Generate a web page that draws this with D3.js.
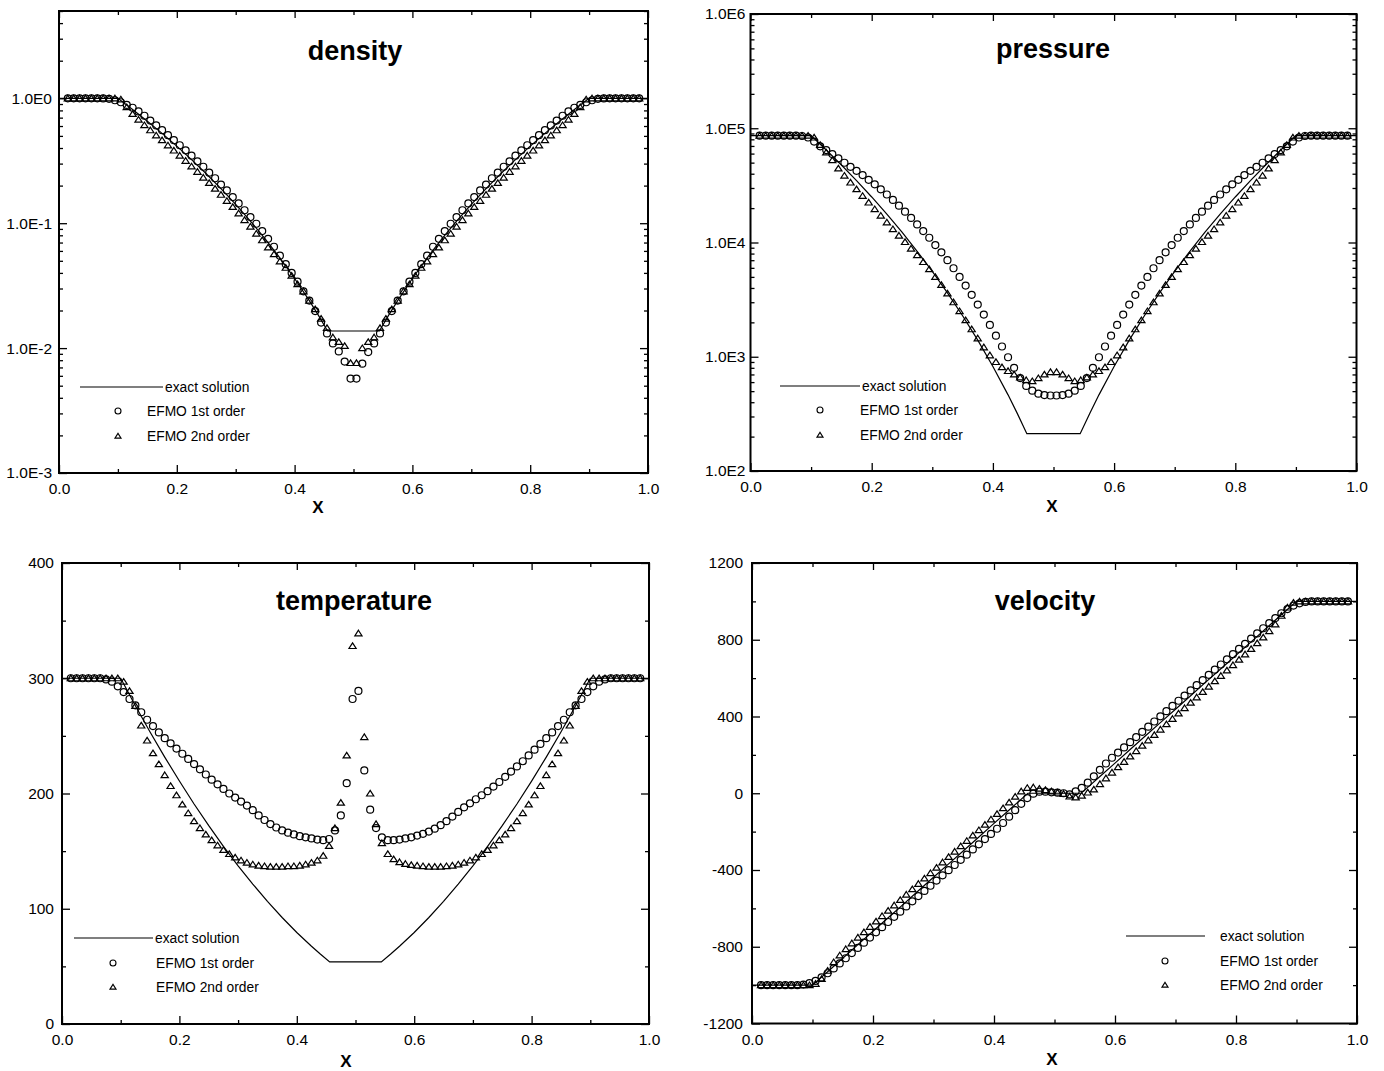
<!DOCTYPE html>
<html>
<head>
<meta charset="utf-8">
<script src="https://cdn.jsdelivr.net/npm/d3@7"></script>
<style>
  body { margin: 0; background: #fff; }
  svg { display: block; font-family: "Liberation Sans", Arial, Helvetica, sans-serif; }
</style>
</head>
<body>
<svg id="chart" width="1384" height="1071"></svg>
<script>
// plotted cell centres (boundary cells are not shown)
const xGrid = [
         0.015, 0.025, 0.035, 0.045, 0.055, 0.065, 0.075, 0.085, 0.095,
  0.105, 0.115, 0.125, 0.135, 0.145, 0.155, 0.165, 0.175, 0.185, 0.195,
  0.205, 0.215, 0.225, 0.235, 0.245, 0.255, 0.265, 0.275, 0.285, 0.295,
  0.305, 0.315, 0.325, 0.335, 0.345, 0.355, 0.365, 0.375, 0.385, 0.395,
  0.405, 0.415, 0.425, 0.435, 0.445, 0.455, 0.465, 0.475, 0.485, 0.495,
  0.505, 0.515, 0.525, 0.535, 0.545, 0.555, 0.565, 0.575, 0.585, 0.595,
  0.605, 0.615, 0.625, 0.635, 0.645, 0.655, 0.665, 0.675, 0.685, 0.695,
  0.705, 0.715, 0.725, 0.735, 0.745, 0.755, 0.765, 0.775, 0.785, 0.795,
  0.805, 0.815, 0.825, 0.835, 0.845, 0.855, 0.865, 0.875, 0.885, 0.895,
  0.905, 0.915, 0.925, 0.935, 0.945, 0.955, 0.965, 0.975, 0.985
];

// EFMO 1st order (circles) and 2nd order (triangles)
const densityFirst = [
     1, 1, 1, 1, 1, 1, 0.997, 0.99, 0.965,
  0.93, 0.885, 0.84, 0.785, 0.725, 0.663, 0.607, 0.556, 0.507, 0.462,
  0.421, 0.383, 0.347, 0.313, 0.283, 0.254, 0.229, 0.204, 0.183, 0.162,
  0.144, 0.127, 0.112, 0.099, 0.0865, 0.075, 0.0648, 0.055, 0.047, 0.040,
  0.034, 0.0285, 0.024, 0.0198, 0.016, 0.0131, 0.0109, 0.0094, 0.0078, 0.0057,
  0.0057, 0.0075, 0.0093, 0.0109, 0.0131, 0.016, 0.0198, 0.024, 0.0285, 0.034,
  0.040, 0.047, 0.055, 0.0648, 0.075, 0.0865, 0.099, 0.112, 0.127, 0.144,
  0.162, 0.183, 0.204, 0.229, 0.254, 0.283, 0.313, 0.347, 0.383, 0.421,
  0.462, 0.507, 0.556, 0.607, 0.663, 0.725, 0.785, 0.84, 0.885, 0.93,
  0.965, 0.99, 0.997, 1, 1, 1, 1, 1, 1
];
const densitySecond = [
     1, 1, 1, 1, 1, 1, 1, 1, 1,
  0.98, 0.85, 0.75, 0.675, 0.61, 0.555, 0.505, 0.462, 0.42, 0.382,
  0.348, 0.316, 0.285, 0.258, 0.232, 0.21, 0.189, 0.169, 0.151, 0.135,
  0.12, 0.106, 0.094, 0.0825, 0.073, 0.064, 0.0565, 0.0495, 0.044, 0.038,
  0.0325, 0.0285, 0.024, 0.0205, 0.0172, 0.0145, 0.0122, 0.0112, 0.0104, 0.0076,
  0.0076, 0.0100, 0.0112, 0.0122, 0.0145, 0.0172, 0.0205, 0.024, 0.0285, 0.0325,
  0.038, 0.044, 0.0495, 0.0565, 0.064, 0.073, 0.0825, 0.094, 0.106, 0.12,
  0.135, 0.151, 0.169, 0.189, 0.21, 0.232, 0.258, 0.285, 0.316, 0.348,
  0.382, 0.42, 0.462, 0.505, 0.555, 0.61, 0.675, 0.75, 0.85, 0.98,
  1, 1, 1, 1, 1, 1, 1, 1, 1
];
const pressureFirst = [
         86100, 86100, 86100, 86100, 86100, 86100, 86100, 85500, 83000,
  76500, 69500, 64400, 59400, 54500, 49900, 46000, 42400, 38900, 35400,
  32300, 29200, 26300, 23600, 21000, 18600, 16400, 14400, 12600, 11000,
  9500, 8200, 7000, 5950, 5000, 4200, 3480, 2860, 2340, 1900,
  1530, 1230, 990, 800, 650, 555, 505, 475, 462, 458,
  458, 462, 475, 505, 555, 650, 800, 990, 1230, 1530,
  1900, 2340, 2860, 3480, 4200, 5000, 5950, 7000, 8200, 9500,
  11000, 12600, 14400, 16400, 18600, 21000, 23600, 26300, 29200, 32300,
  35400, 38900, 42400, 46000, 49900, 54500, 59400, 64400, 69500, 76500,
  83000, 85500, 86100, 86100, 86100, 86100, 86100, 86100, 86100
];
const pressureSecond = [
         86100, 86100, 86100, 86100, 86100, 86100, 86100, 86100, 86100,
  83000, 71500, 61500, 52500, 44500, 38500, 33500, 29300, 25600, 22400,
  19600, 17200, 15000, 13100, 11500, 10100, 8850, 7750, 6750, 5850,
  5000, 4250, 3580, 3000, 2510, 2090, 1740, 1450, 1210, 1030,
  900, 810, 750, 700, 660, 625, 612, 650, 700, 735,
  735, 700, 650, 612, 625, 660, 700, 750, 810, 900,
  1030, 1210, 1450, 1740, 2090, 2510, 3000, 3580, 4250, 5000,
  5850, 6750, 7750, 8850, 10100, 11500, 13100, 15000, 17200, 19600,
  22400, 25600, 29300, 33500, 38500, 44500, 52500, 61500, 71500, 83000,
  86100, 86100, 86100, 86100, 86100, 86100, 86100, 86100, 86100
];
const temperatureFirst = [
       300, 300, 300, 300, 300, 300, 299, 297, 293,
  288, 282, 276.5, 270.5, 264, 258.5, 253, 248, 243.5, 239,
  234.5, 230, 225.5, 221, 216.5, 212, 208, 204, 200, 196.5,
  193, 189.5, 185.5, 181, 177, 173.5, 170.5, 168, 166, 164.5,
  163, 162, 161, 160, 159.5, 160.5, 168, 181, 209, 282,
  289, 220, 186, 170, 162, 159.5, 159.5, 160, 161, 162,
  163.5, 165, 167, 169.5, 172.5, 176, 180, 184, 188, 191.5,
  195, 198.5, 202, 206, 210, 214.5, 219, 223.5, 228, 233,
  238, 243, 248, 253, 258.5, 264, 270.5, 276.5, 282, 288,
  293, 297, 299, 300, 300, 300, 300, 300, 300
];
const temperatureSecond = [
       300, 300, 300, 300, 300, 300, 300, 300, 300,
  297, 289, 276, 259, 246, 235, 225.5, 216, 206.5, 198.5,
  190.5, 183, 176, 170, 164.5, 159.5, 155, 151, 147.5, 144.5,
  142, 140, 138.5, 137.5, 137, 136.5, 136.5, 136.5, 137, 137,
  137.5, 138.5, 140, 142, 146, 154.5, 170, 192, 233, 328,
  339, 249, 200, 173.5, 157, 147.5, 143, 140.5, 139, 138,
  137.5, 137, 136.5, 136.5, 136.5, 137, 137.5, 138.5, 140, 142,
  144.5, 147.5, 151, 155, 159.5, 164.5, 170, 176, 183, 190.5,
  198.5, 206.5, 216, 225.5, 235, 246, 259, 276, 289, 297,
  300, 300, 300, 300, 300, 300, 300, 300, 300
];
const velocityFirst = [
         -1000, -1000, -1000, -1000, -1000, -1000, -1000, -997, -990,
  -978, -960, -938, -913, -887, -860, -833, -806, -779, -752,
  -725, -698, -671, -644, -617, -590, -563, -536, -509, -482,
  -455, -428, -401, -374, -347, -320, -293, -266, -239, -212,
  -185, -155, -122, -88, -55, -25, -2, 8, 8, 5,
  3, 0, -6, 10, 28, 55, 88, 122, 155, 185,
  212, 239, 266, 293, 320, 347, 374, 401, 428, 455,
  482, 509, 536, 563, 590, 617, 644, 671, 698, 725,
  752, 779, 806, 833, 860, 887, 913, 938, 960, 978,
  990, 997, 1000, 1000, 1000, 1000, 1000, 1000, 1000
];
const velocitySecond = [
         -1000, -1000, -1000, -1000, -1000, -1000, -1000, -1000, -1000,
  -993, -968, -925, -880, -845, -812, -782, -752, -724, -696,
  -668, -640, -612, -584, -556, -528, -500, -472, -444, -416,
  -388, -360, -332, -304, -276, -248, -220, -192, -164, -136,
  -108, -78, -48, -18, 10, 28, 31, 24, 17, 10,
  4, -3, -17, -21, -12, 4, 20, 48, 78, 108,
  136, 164, 192, 220, 248, 276, 304, 332, 360, 388,
  416, 444, 472, 500, 528, 556, 584, 612, 640, 668,
  696, 724, 752, 782, 812, 845, 880, 925, 968, 993,
  1000, 1000, 1000, 1000, 1000, 1000, 1000, 1000, 1000
];

// exact solution read at stations along x
const exactX = [
  0, 0.1, 0.125, 0.15, 0.175, 0.2, 0.225, 0.25, 0.275, 0.3, 0.325, 0.35, 0.375, 0.4, 0.425, 0.44, 0.456,
  0.544, 0.56, 0.575, 0.6, 0.625, 0.65, 0.675, 0.7, 0.725, 0.75, 0.775, 0.8, 0.825, 0.85, 0.875, 0.9, 1.0
];
const densityExact = [
  1, 1, 0.814, 0.656, 0.524, 0.414, 0.323, 0.249, 0.189, 0.1416, 0.1041, 0.0749, 0.0528, 0.0361, 0.024, 0.01845, 0.0137,
  0.0137, 0.01845, 0.024, 0.0361, 0.0528, 0.0749, 0.1041, 0.1416, 0.189, 0.249, 0.323, 0.414, 0.524, 0.656, 0.814, 1, 1
];
const pressureExact = [
  86100, 86100, 64510, 47700, 34830, 25030, 17710, 12300, 8378, 5578, 3624, 2287, 1398, 823, 464, 321, 212,
  212, 321, 464, 823, 1398, 2287, 3624, 5578, 8378, 12300, 17710, 25030, 34830, 47700, 64510, 86100, 86100
];
const temperatureExact = [
  300, 300, 276.2, 253.4, 231.6, 210.8, 190.9, 172.1, 154.2, 137.3, 121.4, 106.4, 92.4, 79.4, 67.5, 60.7, 53.9,
  53.9, 60.7, 67.5, 79.4, 92.4, 106.4, 121.4, 137.3, 154.2, 172.1, 190.9, 210.8, 231.6, 253.4, 276.2, 300, 300
];
const velocityExact = [
  -1000, -1000, -930, -860, -789, -719, -649, -579, -508, -438, -368, -298, -228, -157, -87, -45, 0,
  0, 45, 87, 157, 228, 298, 368, 438, 508, 579, 649, 719, 789, 860, 930, 1000, 1000
];

// tick values and labels
const xTicks = [0, 0.2, 0.4, 0.6, 0.8, 1.0];
const xTickLabels = ["0.0", "0.2", "0.4", "0.6", "0.8", "1.0"];
const densityTicks = [1e-3, 1e-2, 1e-1, 1];
const densityTickLabels = ["1.0E-3", "1.0E-2", "1.0E-1", "1.0E0"];
const pressureTicks = [1e2, 1e3, 1e4, 1e5, 1e6];
const pressureTickLabels = ["1.0E2", "1.0E3", "1.0E4", "1.0E5", "1.0E6"];
const temperatureTicks = [0, 100, 200, 300, 400];
const temperatureTickLabels = ["0", "100", "200", "300", "400"];
const velocityTicks = [-1200, -800, -400, 0, 400, 800, 1200];
const velocityTickLabels = ["-1200", "-800", "-400", "0", "400", "800", "1200"];

const legendLabels = ["exact solution", "EFMO 1st order", "EFMO 2nd order"];

const svg = d3.select("#chart");

const panels = [
  { title: "density", first: densityFirst, second: densitySecond, exact: densityExact,
    left: 59, right: 648, top: 11, bottom: 473, log: true, domain: [1e-3, 5], minorCount: null,
    ticks: densityTicks, tickLabels: densityTickLabels, labelGap: 7,
    titleAt: [355, 60], xTitleAt: [318, 513],
    legend: { line: [80, 163], text0: 165, sym: 118, text: 147, rows: [387, 411, 436] } },
  { title: "pressure", first: pressureFirst, second: pressureSecond, exact: pressureExact,
    left: 750.5, right: 1356.5, top: 14, bottom: 471, log: true, domain: [1e2, 1e6], minorCount: null,
    ticks: pressureTicks, tickLabels: pressureTickLabels, labelGap: 5,
    titleAt: [1053, 58], xTitleAt: [1052, 512],
    legend: { line: [780, 860], text0: 862, sym: 820, text: 860, rows: [386, 410, 435] } },
  { title: "temperature", first: temperatureFirst, second: temperatureSecond, exact: temperatureExact,
    left: 62, right: 649, top: 563, bottom: 1024, log: false, domain: [0, 400], minorCount: 8,
    ticks: temperatureTicks, tickLabels: temperatureTickLabels, labelGap: 8,
    titleAt: [354, 610], xTitleAt: [346, 1067],
    legend: { line: [74, 153], text0: 155, sym: 113, text: 156, rows: [938, 963, 987] } },
  { title: "velocity", first: velocityFirst, second: velocitySecond, exact: velocityExact,
    left: 752, right: 1357, top: 563, bottom: 1023.5, log: false, domain: [-1200, 1200], minorCount: 12,
    ticks: velocityTicks, tickLabels: velocityTickLabels, labelGap: 9,
    titleAt: [1045, 610], xTitleAt: [1052, 1065],
    legend: { line: [1126, 1205], text0: 1220, sym: 1165, text: 1220, rows: [936, 961, 985] } }
];

// hollow triangle marker centred on the point
function trianglePath(s) {
  return `M0,${-3.1 * s}L${3.6 * s},${2.5 * s}L${-3.6 * s},${2.5 * s}Z`;
}

function styleAxis(g) {
  g.select(".domain").remove();
  g.selectAll("line").attr("stroke", "#000").attr("stroke-width", 1.3);
  g.selectAll("text").attr("fill", "#000").attr("font-size", 15.5)
    .attr("font-family", '"Liberation Sans", Arial, Helvetica, sans-serif');
}

function drawPanel(p) {
  const g = svg.append("g");

  const x = d3.scaleLinear().domain([0, 1]).range([p.left, p.right]);
  const y = (p.log ? d3.scaleLog() : d3.scaleLinear()).domain(p.domain).range([p.bottom, p.top]);

  // minor ticks from the scales themselves
  const xMinor = x.ticks(10).filter(v => !xTicks.some(t => Math.abs(t - v) < 1e-9));
  const yMinor = (p.log ? y.ticks() : y.ticks(p.minorCount))
    .filter(v => !p.ticks.some(t => Math.abs(t - v) < 1e-12 * Math.max(1, Math.abs(t))));

  // bottom axis
  g.append("g").attr("transform", `translate(0,${p.bottom})`)
    .call(d3.axisBottom(x).tickValues(xTicks).tickFormat((d, i) => xTickLabels[i]).tickSize(-8).tickPadding(10))
    .call(styleAxis);
  g.append("g").attr("transform", `translate(0,${p.bottom})`)
    .call(d3.axisBottom(x).tickValues(xMinor).tickFormat("").tickSize(-4))
    .call(styleAxis);
  // top axis (ticks only)
  g.append("g").attr("transform", `translate(0,${p.top})`)
    .call(d3.axisTop(x).tickValues(xTicks).tickFormat("").tickSize(-7))
    .call(styleAxis);
  g.append("g").attr("transform", `translate(0,${p.top})`)
    .call(d3.axisTop(x).tickValues(xMinor).tickFormat("").tickSize(-4))
    .call(styleAxis);
  // left axis
  g.append("g").attr("transform", `translate(${p.left},0)`)
    .call(d3.axisLeft(y).tickValues(p.ticks).tickFormat((d, i) => p.tickLabels[i]).tickSize(-8).tickPadding(p.labelGap))
    .call(styleAxis);
  g.append("g").attr("transform", `translate(${p.left},0)`)
    .call(d3.axisLeft(y).tickValues(yMinor).tickFormat("").tickSize(-4))
    .call(styleAxis);
  // right axis (ticks only)
  g.append("g").attr("transform", `translate(${p.right},0)`)
    .call(d3.axisRight(y).tickValues(p.ticks).tickFormat("").tickSize(-8))
    .call(styleAxis);
  g.append("g").attr("transform", `translate(${p.right},0)`)
    .call(d3.axisRight(y).tickValues(yMinor).tickFormat("").tickSize(-4))
    .call(styleAxis);

  // frame
  g.append("rect")
    .attr("x", p.left).attr("y", p.top)
    .attr("width", p.right - p.left).attr("height", p.bottom - p.top)
    .attr("fill", "none").attr("stroke", "#000").attr("stroke-width", 2);

  // exact solution
  const line = d3.line().x(d => x(d[0])).y(d => y(d[1]));
  g.append("path")
    .datum(d3.zip(exactX, p.exact))
    .attr("d", line)
    .attr("fill", "none").attr("stroke", "#000").attr("stroke-width", 1.2);

  // 1st order circles
  g.append("g").selectAll("circle")
    .data(d3.zip(xGrid, p.first))
    .enter().append("circle")
    .attr("cx", d => x(d[0])).attr("cy", d => y(d[1])).attr("r", 3.5)
    .attr("fill", "none").attr("stroke", "#000").attr("stroke-width", 1.2);

  // 2nd order triangles
  g.append("g").selectAll("path")
    .data(d3.zip(xGrid, p.second))
    .enter().append("path")
    .attr("transform", d => `translate(${x(d[0])},${y(d[1])})`)
    .attr("d", trianglePath(1))
    .attr("fill", "none").attr("stroke", "#000").attr("stroke-width", 1.2);

  // titles
  g.append("text")
    .attr("x", p.titleAt[0]).attr("y", p.titleAt[1])
    .attr("text-anchor", "middle").attr("font-size", 27).attr("font-weight", "bold")
    .text(p.title);
  g.append("text")
    .attr("x", p.xTitleAt[0]).attr("y", p.xTitleAt[1])
    .attr("text-anchor", "middle").attr("font-size", 17).attr("font-weight", "bold")
    .text("X");

  // legend
  const L = p.legend;
  g.append("line")
    .attr("x1", L.line[0]).attr("x2", L.line[1]).attr("y1", L.rows[0]).attr("y2", L.rows[0])
    .attr("stroke", "#000").attr("stroke-width", 1.2);
  g.append("circle")
    .attr("cx", L.sym).attr("cy", L.rows[1]).attr("r", 3)
    .attr("fill", "none").attr("stroke", "#000").attr("stroke-width", 1.1);
  g.append("path")
    .attr("transform", `translate(${L.sym},${L.rows[2]})`)
    .attr("d", trianglePath(0.85))
    .attr("fill", "none").attr("stroke", "#000").attr("stroke-width", 1.1);
  legendLabels.forEach((label, i) => {
    g.append("text")
      .attr("x", i === 0 ? L.text0 : L.text).attr("y", L.rows[i])
      .attr("dy", "0.35em").attr("font-size", 13.8)
      .text(label);
  });
}

panels.forEach(drawPanel);
</script>
</body>
</html>
